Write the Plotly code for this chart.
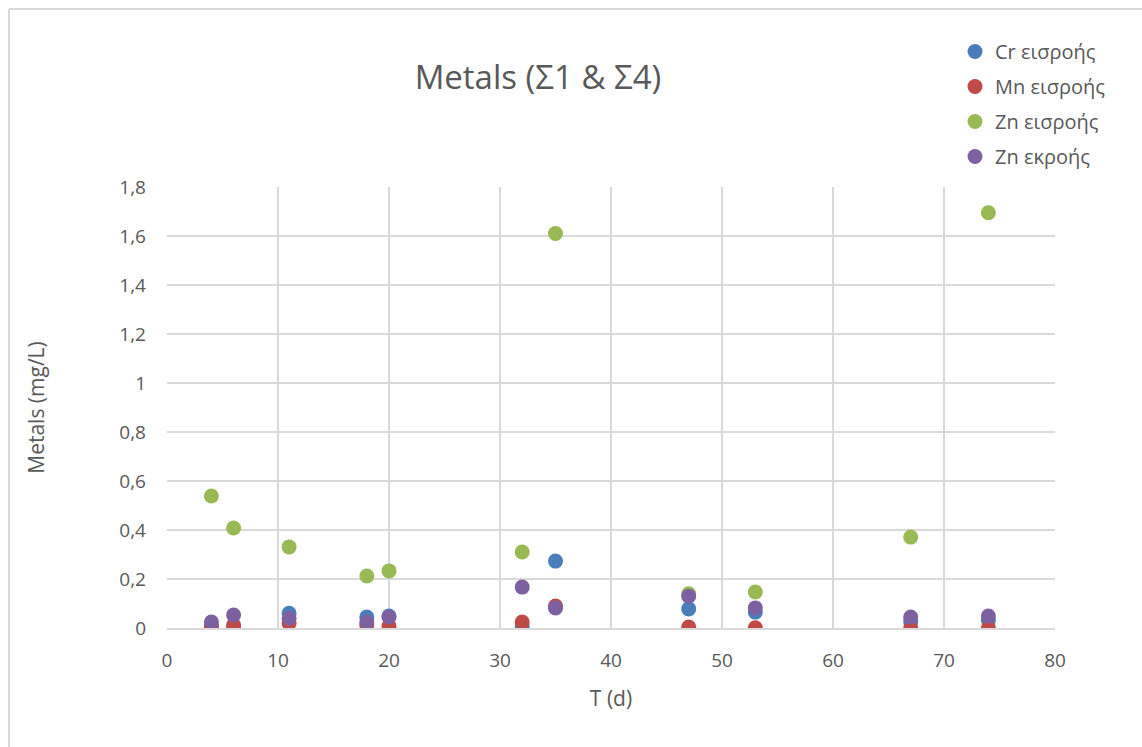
import plotly.graph_objects as go

# Sampling days
t_days = [4, 6, 11, 18, 20, 32, 35, 47, 53, 67, 74]

# Metal concentrations (mg/L)
cr_in = [0.004, 0.001, 0.060, 0.045, 0.049, 0.005, 0.273, 0.078, 0.065, 0.026, 0.032]
mn_in = [0.008, 0.012, 0.020, 0.012, 0.008, 0.024, 0.090, 0.004, 0.001, 0.000, 0.000]
zn_in = [0.539, 0.408, 0.331, 0.212, 0.233, 0.310, 1.610, 0.140, 0.147, 0.371, 1.695]
zn_out = [0.024, 0.053, 0.040, 0.024, 0.045, 0.167, 0.082, 0.130, 0.082, 0.045, 0.049]

series_names = ["Cr εισροής", "Mn εισροής", "Zn εισροής", "Zn εκροής"]
series_values = [cr_in, mn_in, zn_in, zn_out]
series_colors = ["#4a7ebb", "#be4b48", "#98b954", "#7d60a0"]

x_ticks = [0, 10, 20, 30, 40, 50, 60, 70, 80]
y_ticks = [0, 0.2, 0.4, 0.6, 0.8, 1.0, 1.2, 1.4, 1.6, 1.8]
y_tick_labels = ["0", "0,2", "0,4", "0,6", "0,8", "1", "1,2", "1,4", "1,6", "1,8"]

font_family = "Open Sans, Liberation Sans, sans-serif"
text_color = "#595959"
grid_color = "#d9d9d9"

# plot area in pixels
L, R, T, B = 167, 87, 187, 119
W, H = 1142, 747
PW, PH = W - L - R, H - T - B

fig = go.Figure()
for name, vals, col in zip(series_names, series_values, series_colors):
    fig.add_trace(go.Scatter(
        x=t_days, y=vals, mode="markers", name=name, legendgroup=name,
        marker=dict(size=15, color=col, line=dict(width=0)),
    ))

fig.update_layout(
    width=W, height=H,
    paper_bgcolor="white", plot_bgcolor="white",
    margin=dict(l=L, r=R, t=T, b=B),
    font=dict(family=font_family, color=text_color, size=19),
    title=dict(text="Metals (Σ1 & Σ4)", x=538 / W, xanchor="center",
               y=1 - 77 / H, yanchor="middle",
               font=dict(size=33, color=text_color, family=font_family)),
    legend=dict(x=(955 - L) / PW, xanchor="left", y=(H - B - 32) / PH, yanchor="top",
                font=dict(size=20, color=text_color),
                itemsizing="trace", tracegroupgap=6,
                bgcolor="rgba(0,0,0,0)", itemwidth=30),
    showlegend=True,
)

fig.update_xaxes(
    range=[0, 80], tickvals=x_ticks, ticktext=[str(v) for v in x_ticks],
    showgrid=True, gridcolor=grid_color, gridwidth=2,
    showline=True, linecolor=grid_color, linewidth=2,
    zeroline=False, ticks="", ticklabelstandoff=14,
    title=dict(text="T (d)", font=dict(size=21, color=text_color), standoff=20),
    tickfont=dict(size=19, color=text_color),
)
fig.update_yaxes(
    range=[0, 1.8], tickvals=y_ticks, ticktext=y_tick_labels,
    showgrid=True, gridcolor=grid_color, gridwidth=2,
    showline=False, zeroline=False, ticks="", ticklabelstandoff=20,
    title=dict(text="Metals (mg/L)", font=dict(size=21, color=text_color), standoff=68),
    tickfont=dict(size=19, color=text_color),
)

# Chart-area frame (left and top edges)
frame_x = -(L - 9) / PW
frame_y = (H - B - 9) / PH
fig.add_shape(type="line", xref="paper", yref="paper",
              x0=frame_x, x1=frame_x, y0=-B / PH, y1=frame_y,
              line=dict(color=grid_color, width=2))
fig.add_shape(type="line", xref="paper", yref="paper",
              x0=frame_x, x1=(W - L) / PW, y0=frame_y, y1=frame_y,
              line=dict(color=grid_color, width=2))

fig.write_html("out.html")
